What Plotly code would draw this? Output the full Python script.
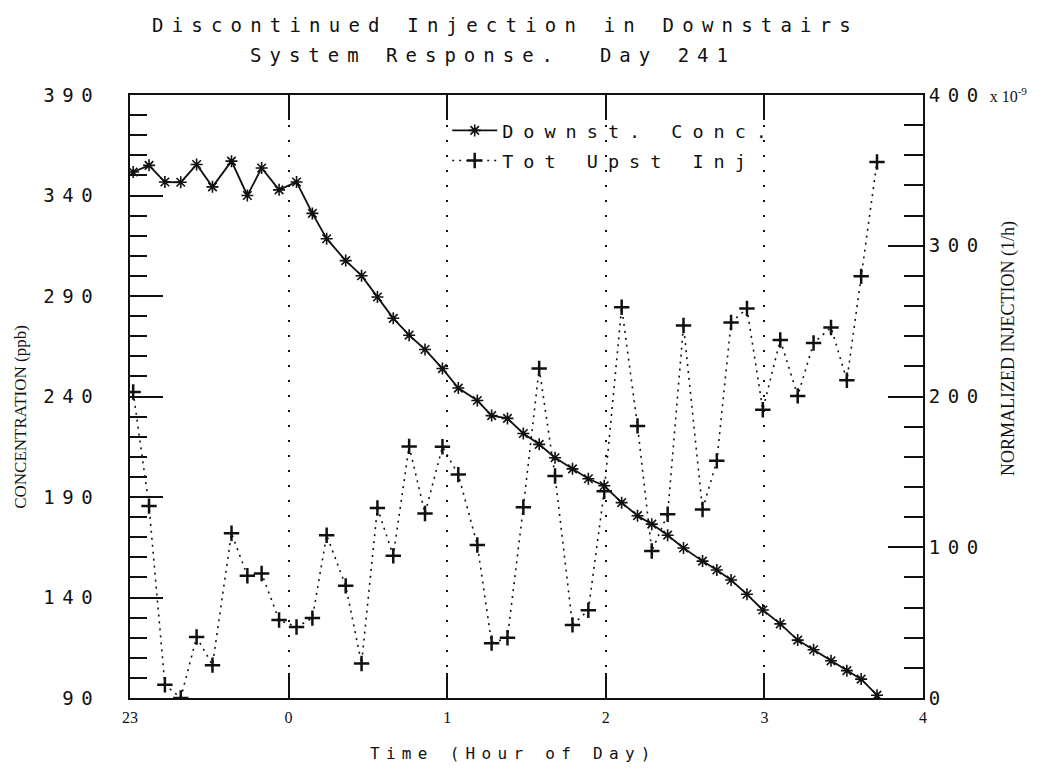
import plotly.graph_objects as go

# ---- data ----
time_h = [-0.98, -0.88, -0.78, -0.68, -0.58, -0.48, -0.36, -0.26, -0.17, -0.06,
          0.05, 0.15, 0.24, 0.36, 0.46, 0.56, 0.66, 0.76, 0.86, 0.97,
          1.07, 1.19, 1.28, 1.38, 1.48, 1.58, 1.68, 1.79, 1.89, 1.99,
          2.10, 2.20, 2.29, 2.39, 2.49, 2.61, 2.70, 2.79, 2.89, 2.99,
          3.10, 3.21, 3.31, 3.42, 3.52, 3.61, 3.71]

downst_conc_ppb = [351.7, 355.0, 346.7, 346.6, 355.4, 344.3, 357.1, 340.0, 353.7, 342.8,
                   346.7, 331.1, 318.5, 307.6, 300.1, 289.5, 278.9, 270.5, 263.4, 253.9,
                   244.2, 238.0, 230.5, 229.1, 221.6, 216.2, 209.5, 204.0, 199.1, 195.6,
                   187.2, 180.7, 176.5, 171.0, 164.6, 158.1, 153.7, 148.7, 141.6, 133.8,
                   126.9, 118.8, 114.0, 108.5, 103.6, 99.4, 91.4]

tot_upst_inj_e9 = [203.0, 127.3, 8.8, 0.0, 40.5, 21.8, 109.3, 81.1, 82.6, 51.7,
                   47.1, 53.0, 108.0, 74.4, 22.9, 126.0, 94.3, 166.9, 122.4, 166.7,
                   148.2, 101.5, 36.4, 40.0, 126.5, 218.6, 147.3, 48.5, 58.2, 137.1,
                   259.2, 180.5, 97.5, 121.9, 247.1, 125.0, 157.3, 249.1, 258.4, 191.2,
                   237.5, 200.4, 235.5, 245.8, 210.8, 279.7, 355.6]

x_tickvals = [-1, 0, 1, 2, 3, 4]
x_ticktext = ["23", "0", "1", "2", "3", "4"]
left_tickvals = [90, 140, 190, 240, 290, 340, 390]
right_tickvals = [0, 100, 200, 300, 400]

title_line1 = "Discontinued Injection in Downstairs"
title_line2 = "System Response.&nbsp;&nbsp;Day 241"
x_title = "Time (Hour of Day)"
left_title = "CONCENTRATION (ppb)"
right_title = "NORMALIZED INJECTION (1/h)"
name_conc = "Downst. Conc."
name_inj = "Tot Upst Inj"

MONO = "DejaVu Sans Mono"
SERIF = "Liberation Serif"
INK = "#111111"


def spaced(text, px):
    return f'<span style="letter-spacing:{px}px">{text}</span>'


left_ticktext = [spaced(str(v), 7.5) for v in left_tickvals]
right_ticktext = [spaced(str(v), 7.5) for v in right_tickvals[:-1]]
right_ticktext.append(
    spaced(str(right_tickvals[-1]), 7.5)
    + f'<span style="font-family:{SERIF};font-size:16px;letter-spacing:0px"> x 10<sup>-9</sup></span>'
)

fig = go.Figure()

fig.add_trace(go.Scatter(
    x=time_h, y=downst_conc_ppb, name=spaced(name_conc, 10),
    mode="lines+markers",
    line=dict(color=INK, width=1.8),
    marker=dict(symbol="asterisk-open", size=10, color=INK, line=dict(color=INK, width=1.6)),
    legendgroup="a",
))

fig.add_trace(go.Scatter(
    x=time_h, y=tot_upst_inj_e9, name=spaced(name_inj, 10),
    mode="lines+markers", yaxis="y2",
    line=dict(color=INK, width=1.6, dash="2px,5px"),
    marker=dict(symbol="cross-thin-open", size=11, color=INK, line=dict(color=INK, width=2.5)),
    legendgroup="b",
))

fig.update_layout(
    width=1055, height=775,
    paper_bgcolor="white", plot_bgcolor="white",
    margin=dict(l=122, r=140, t=87, b=85, autoexpand=False),
    font=dict(family=MONO, color=INK),
    showlegend=True,
    legend=dict(
        x=0.40, y=0.972, xanchor="left", yanchor="top",
        bgcolor="rgba(0,0,0,0)", borderwidth=0,
        font=dict(family=MONO, size=18.5, color=INK),
        tracegroupgap=3, itemwidth=45,
    ),
    xaxis=dict(
        range=[-1, 4], tickmode="array", tickvals=x_tickvals, ticktext=x_ticktext,
        ticks="inside", ticklen=25, tickwidth=2, tickcolor=INK,
        showline=True, linewidth=2, linecolor=INK, mirror="ticks",
        showgrid=True, gridcolor=INK, gridwidth=2, griddash="2px,13px",
        zeroline=False,
        tickfont=dict(family=SERIF, size=16, color=INK),
        ticklabelstandoff=4,
    ),
    yaxis=dict(
        range=[90, 390], tickmode="array", tickvals=left_tickvals, ticktext=left_ticktext,
        ticks="inside", ticklen=33, tickwidth=2, tickcolor=INK,
        minor=dict(tick0=90, dtick=10, ticks="inside", ticklen=17, tickwidth=2,
                   tickcolor=INK, showgrid=False),
        showline=True, linewidth=2, linecolor=INK, mirror=False,
        showgrid=False, zeroline=False,
        tickfont=dict(family=MONO, size=19, color=INK),
        ticklabelstandoff=24,
    ),
    yaxis2=dict(
        range=[0, 400], overlaying="y", side="right",
        tickmode="array", tickvals=right_tickvals, ticktext=right_ticktext,
        ticks="inside", ticklen=35, tickwidth=2, tickcolor=INK,
        minor=dict(tick0=0, dtick=20, ticks="inside", ticklen=19, tickwidth=2,
                   tickcolor=INK, showgrid=False),
        showline=True, linewidth=2, linecolor=INK,
        showgrid=False, zeroline=False,
        tickfont=dict(family=MONO, size=19, color=INK),
        ticklabelstandoff=0,
    ),
    annotations=[
        dict(text=spaced(title_line1, 8.2), xref="paper", yref="paper",
             x=0.474, y=1.116, xanchor="center", yanchor="middle", showarrow=False,
             font=dict(family=MONO, size=19, color=INK)),
        dict(text=spaced(title_line2, 8.0), xref="paper", yref="paper",
             x=0.458, y=1.066, xanchor="center", yanchor="middle", showarrow=False,
             font=dict(family=MONO, size=19, color=INK)),
        dict(text=spaced(x_title, 6.3), xref="paper", yref="paper",
             x=0.484, y=-0.092, xanchor="center", yanchor="middle", showarrow=False,
             font=dict(family=MONO, size=16, color=INK)),
        dict(text=left_title, xref="paper", yref="paper", textangle=-90,
             x=-0.139, y=0.466, xanchor="center", yanchor="middle", showarrow=False,
             font=dict(family=SERIF, size=17, color=INK)),
        dict(text=right_title, xref="paper", yref="paper", textangle=-90,
             x=1.108, y=0.58, xanchor="center", yanchor="middle", showarrow=False,
             font=dict(family=SERIF, size=18, color=INK)),
    ],
)

fig.write_html("out.html")
